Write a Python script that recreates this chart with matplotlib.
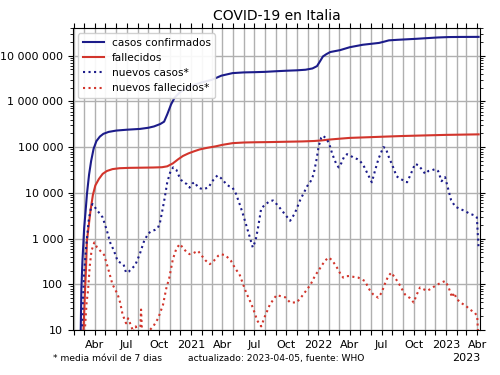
import matplotlib
matplotlib.use("Agg")
import matplotlib.pyplot as plt
import matplotlib.dates as mdates
import matplotlib.ticker as mticker
import numpy as np

# ---------------- data ----------------
cum_cases_dates = ["2020-02-19", "2020-02-22", "2020-02-25", "2020-03-01", "2020-03-05", "2020-03-09",
                   "2020-03-15", "2020-03-21", "2020-03-28", "2020-04-05", "2020-04-15", "2020-04-25",
                   "2020-05-10", "2020-06-01", "2020-07-01", "2020-08-08", "2020-09-01", "2020-09-17",
                   "2020-10-05", "2020-10-16", "2020-10-25", "2020-11-05", "2020-11-15", "2020-12-01",
                   "2020-12-20", "2021-01-10", "2021-02-01", "2021-03-01", "2021-03-29", "2021-04-30",
                   "2021-06-01", "2021-07-01", "2021-08-01", "2021-09-01", "2021-10-01", "2021-11-01",
                   "2021-11-25", "2021-12-15", "2021-12-28", "2022-01-06", "2022-01-14", "2022-01-24",
                   "2022-02-04", "2022-03-04", "2022-04-01", "2022-05-08", "2022-06-24", "2022-07-10",
                   "2022-07-22", "2022-08-15", "2022-09-17", "2022-10-10", "2022-11-13", "2022-12-10",
                   "2023-01-09", "2023-02-10", "2023-03-10", "2023-04-05"]
cum_cases = [3, 79, 320, 1700, 3900, 9500,
             25000, 50000, 92000, 135000, 170000, 195000,
             215000, 230000, 240000, 250000, 265000, 283000,
             320000, 360000, 520000, 860000, 1200000, 1600000,
             1950000, 2300000, 2600000, 2950000, 3650000, 4150000,
             4300000, 4350000, 4420000, 4560000, 4680000, 4780000,
             4920000, 5250000, 5900000, 7600000, 9600000, 10800000,
             12000000, 13200000, 15300000, 17300000, 19000000, 20400000,
             21600000, 22200000, 22900000, 23400000, 24300000, 25000000,
             25500000, 25650000, 25700000, 25750000]

cum_deaths_dates = ["2020-02-23", "2020-02-28", "2020-03-03", "2020-03-06", "2020-03-09", "2020-03-14",
                    "2020-03-19", "2020-03-26", "2020-04-02", "2020-04-12", "2020-04-23", "2020-05-05",
                    "2020-05-21", "2020-06-10", "2020-07-10", "2020-08-15", "2020-09-15", "2020-10-10",
                    "2020-10-25", "2020-11-10", "2020-11-25", "2020-12-09", "2020-12-25", "2021-01-10",
                    "2021-01-26", "2021-02-15", "2021-03-13", "2021-04-01", "2021-04-30", "2021-06-01",
                    "2021-07-01", "2021-08-15", "2021-10-01", "2021-11-15", "2021-12-20", "2022-01-10",
                    "2022-02-01", "2022-02-23", "2022-04-01", "2022-05-30", "2022-07-15", "2022-09-01",
                    "2022-11-01", "2023-01-01", "2023-04-05"]
cum_deaths = [2, 10, 60, 200, 900, 1900,
              4000, 9000, 14500, 20000, 26000, 30000,
              33000, 34500, 35200, 35500, 35800, 36300,
              38000, 44000, 54000, 64000, 73000, 81000,
              89000, 96000, 104000, 112000, 122000, 126000,
              127500, 128800, 131000, 133000, 136000, 140000,
              146000, 151000, 159000, 165000, 170000, 175000,
              180000, 185000, 190000]

new_cases_dates = ["2020-02-21", "2020-02-29", "2020-03-07", "2020-03-14", "2020-03-21", "2020-03-25",
                   "2020-04-01", "2020-04-10", "2020-04-23", "2020-05-05", "2020-05-15", "2020-05-25",
                   "2020-06-05", "2020-06-15", "2020-06-22", "2020-06-29", "2020-07-07", "2020-07-14",
                   "2020-07-25", "2020-08-07", "2020-08-20", "2020-09-01", "2020-09-10", "2020-09-20",
                   "2020-09-28", "2020-10-04", "2020-10-12", "2020-10-18", "2020-10-25", "2020-11-03",
                   "2020-11-11", "2020-11-20", "2020-11-28", "2020-12-04", "2020-12-12", "2020-12-20",
                   "2020-12-28", "2021-01-05", "2021-01-12", "2021-01-20", "2021-01-28", "2021-02-05",
                   "2021-02-12", "2021-02-20", "2021-03-01", "2021-03-10", "2021-03-18", "2021-03-28",
                   "2021-04-05", "2021-04-12", "2021-04-20", "2021-04-30", "2021-05-10", "2021-05-20",
                   "2021-05-29", "2021-06-08", "2021-06-18", "2021-06-27", "2021-07-05", "2021-07-12",
                   "2021-07-21", "2021-08-01", "2021-08-15", "2021-08-24", "2021-09-05", "2021-09-22",
                   "2021-10-12", "2021-10-25", "2021-11-10", "2021-11-30", "2021-12-10", "2021-12-18",
                   "2021-12-26", "2022-01-02", "2022-01-09", "2022-01-14", "2022-01-21", "2022-01-31",
                   "2022-02-10", "2022-02-20", "2022-02-28", "2022-03-08", "2022-03-15", "2022-03-24",
                   "2022-04-02", "2022-04-12", "2022-04-22", "2022-04-30", "2022-05-10", "2022-05-20",
                   "2022-06-03", "2022-06-12", "2022-06-22", "2022-07-06", "2022-07-13", "2022-07-22",
                   "2022-08-01", "2022-08-13", "2022-08-25", "2022-09-12", "2022-09-22", "2022-10-05",
                   "2022-10-15", "2022-10-25", "2022-11-03", "2022-11-12", "2022-11-22", "2022-12-01",
                   "2022-12-10", "2022-12-20", "2022-12-30", "2023-01-08", "2023-01-16", "2023-01-28",
                   "2023-02-12", "2023-02-25", "2023-03-10", "2023-03-25", "2023-03-31", "2023-04-05"]
new_cases = [3, 150, 700, 2500, 5000, 5700,
             4800, 3900, 2900, 1500, 800, 550,
             320, 290, 270, 180, 190, 215,
             260, 450, 900, 1300, 1450, 1550,
             1700, 2200, 4500, 8000, 17000, 29000,
             36000, 32000, 23000, 19000, 17000, 15500,
             13000, 16000, 17000, 13500, 12500, 12000,
             12500, 13000, 17000, 21000, 24000, 21000,
             18000, 15500, 14000, 13000, 9500, 5800,
             3600, 2000, 1100, 640, 900, 1700,
             4500, 5500, 6600, 6800, 5500, 3800,
             2450, 3500, 7000, 14000, 18000, 25000,
             50000, 105000, 160000, 178000, 160000, 125000,
             70000, 45000, 36000, 45000, 60000, 70000,
             66000, 58000, 55000, 50000, 40000, 28000,
             17000, 30000, 55000, 100000, 95000, 60000,
             40000, 23000, 20000, 17000, 25000, 43000,
             40000, 32000, 26000, 30000, 31000, 33000,
             30000, 18000, 22000, 12000, 7000, 5000,
             4400, 4000, 3500, 3200, 2900, 600]

new_deaths_dates = ["2020-02-27", "2020-03-03", "2020-03-08", "2020-03-12", "2020-03-17", "2020-03-22",
                    "2020-03-30", "2020-04-07", "2020-04-15", "2020-04-27", "2020-05-08", "2020-05-21",
                    "2020-06-05", "2020-06-12", "2020-06-19", "2020-06-29", "2020-07-05", "2020-07-14",
                    "2020-07-20", "2020-07-27", "2020-08-03", "2020-08-08", "2020-08-11", "2020-08-14",
                    "2020-08-20", "2020-08-28", "2020-09-05", "2020-09-15", "2020-09-29", "2020-10-13",
                    "2020-10-22", "2020-10-31", "2020-11-10", "2020-11-20", "2020-11-30", "2020-12-08",
                    "2020-12-18", "2020-12-28", "2021-01-08", "2021-01-21", "2021-02-01", "2021-02-12",
                    "2021-02-24", "2021-03-08", "2021-03-20", "2021-03-28", "2021-04-10", "2021-04-25",
                    "2021-05-08", "2021-05-20", "2021-06-08", "2021-06-18", "2021-06-27", "2021-07-10",
                    "2021-07-21", "2021-08-01", "2021-08-15", "2021-09-03", "2021-09-15", "2021-09-28",
                    "2021-10-12", "2021-10-31", "2021-11-15", "2021-11-30", "2021-12-10", "2021-12-22",
                    "2022-01-05", "2022-01-20", "2022-01-31", "2022-02-10", "2022-02-23", "2022-03-05",
                    "2022-03-13", "2022-03-22", "2022-04-01", "2022-04-12", "2022-04-25", "2022-05-14",
                    "2022-05-28", "2022-06-07", "2022-06-21", "2022-07-01", "2022-07-10", "2022-07-20",
                    "2022-07-29", "2022-08-08", "2022-08-18", "2022-09-06", "2022-09-20", "2022-10-01",
                    "2022-10-10", "2022-10-19", "2022-11-08", "2022-11-20", "2022-12-01", "2022-12-15",
                    "2022-12-30", "2023-01-08", "2023-01-19", "2023-01-25", "2023-02-01", "2023-02-12",
                    "2023-03-01", "2023-03-11", "2023-03-25", "2023-04-01", "2023-04-05"]
new_deaths = [3, 10, 40, 72, 250, 540,
              820, 640, 550, 440, 230, 100,
              60, 40, 22, 14, 18, 12,
              9, 12, 7, 8, 28, 8,
              6, 9, 10, 12, 18, 36,
              80, 140, 350, 600, 760, 640,
              520, 455, 480, 540, 420, 330,
              276, 330, 420, 455, 430, 330,
              220, 165, 66, 45, 31, 16,
              12, 20, 36, 58, 55, 52,
              40, 40, 55, 78, 100, 152,
              220, 330, 385, 330, 233, 170,
              140, 150, 152, 145, 140, 118,
              75, 60, 51, 65, 100, 150,
              180, 140, 109, 60, 50, 40,
              60, 85, 72, 80, 92, 105,
              118, 90, 52, 65, 48, 40,
              33, 28, 24, 20, 5]

series_labels = ["casos confirmados", "fallecidos", "nuevos casos*", "nuevos fallecidos*"]
xtick_dates = ["2020-04-01", "2020-07-01", "2020-10-01", "2021-01-01", "2021-04-01", "2021-07-01",
               "2021-10-01", "2022-01-01", "2022-04-01", "2022-07-01", "2022-10-01", "2023-01-01",
               "2023-04-01"]
xtick_labels = ["Abr", "Jul", "Oct", "2021", "Abr", "Jul", "Oct", "2022", "Abr", "Jul", "Oct",
                "2023", "Abr"]

# ---------------- plot ----------------
blue = "#1c1c8a"
red = "#d2352c"

fig = plt.figure(figsize=(5, 3.75), dpi=100)
ax = fig.add_axes([0.146, 0.12, 0.814, 0.805])

d = lambda s: np.array(s, dtype="datetime64[D]")
ax.plot(d(cum_cases_dates), cum_cases, color=blue, lw=1.5, label=series_labels[0])
ax.plot(d(cum_deaths_dates), cum_deaths, color=red, lw=1.5, label=series_labels[1])
ax.plot(d(new_cases_dates), new_cases, color=blue, lw=1.5, ls=":", label=series_labels[2])
ax.plot(d(new_deaths_dates), new_deaths, color=red, lw=1.5, ls=":", label=series_labels[3])

ax.set_yscale("log")
ax.set_ylim(10, 4e7)
ax.set_xlim(np.datetime64("2020-01-29"), np.datetime64("2023-04-09"))

ax.yaxis.set_major_locator(mticker.LogLocator(base=10))
ax.yaxis.set_minor_locator(mticker.LogLocator(base=10, subs=np.arange(2, 10)))
ax.yaxis.set_major_formatter(mticker.FuncFormatter(lambda v, p: f"{int(round(v)):,}".replace(",", " ")))
ax.yaxis.set_minor_formatter(mticker.NullFormatter())

ax.set_xticks(d(xtick_dates))
ax.set_xticklabels(xtick_labels)
ax.xaxis.set_minor_locator(mdates.MonthLocator())
ax.xaxis.set_minor_formatter(mticker.NullFormatter())

ax.tick_params(which="both", top=True, right=True, direction="out", labelsize=8)
ax.tick_params(which="major", length=3.5, width=0.8)
ax.tick_params(which="minor", length=2, width=0.6)
ax.tick_params(axis="x", which="minor", length=3.5, width=0.8)

ax.grid(True, which="major", axis="y", color="#b0b0b0", lw=1.0)
ax.grid(True, which="both", axis="x", color="#b0b0b0", lw=1.0)
ax.set_axisbelow(True)

ax.set_title("COVID-19 en Italia", fontsize=10)
ax.legend(loc="upper left", fontsize=7.6, framealpha=0.9)

fig.text(0.106, 0.045, "* media móvil de 7 dias", fontsize=6.6, va="center", ha="left")
fig.text(0.376, 0.045, "actualizado: 2023-04-05, fuente: WHO", fontsize=6.6, va="center", ha="left")
fig.text(0.96, 0.045, "2023", fontsize=8, va="center", ha="right")

fig.savefig("out.png", dpi=100)
